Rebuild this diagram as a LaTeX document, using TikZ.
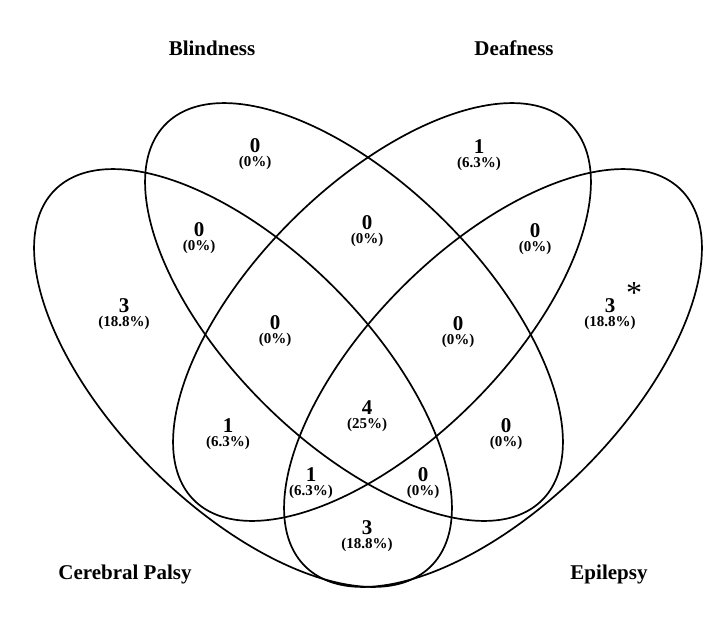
\documentclass[tikz,border=0pt]{standalone}
\usepackage{fontspec}
\setmainfont{Liberation Serif}

\begin{document}
\begin{tikzpicture}[
    x=0.5pt, y=0.5pt,
    ring/.style={draw, line width=0.85pt},
    cat/.style={anchor=base, font=\fontsize{10.5}{12}\selectfont\bfseries},
    num/.style={inner sep=0pt, font=\fontsize{10.5}{12}\selectfont\bfseries},
    pct/.style={inner sep=0pt, font=\fontsize{7.5}{9}\selectfont\bfseries}
]
\useasboundingbox (0,0) rectangle (719,-622);

% ellipse centres
\coordinate (cpc) at (243,-378);
\coordinate (blc) at (354,-312);
\coordinate (dfc) at (382,-312);
\coordinate (epc) at (493,-378);

\draw[ring, rotate around={-45:(cpc)}] (cpc) ellipse [x radius=266, y radius=128.5];
\draw[ring, rotate around={-45:(blc)}] (blc) ellipse [x radius=266, y radius=128.5];
\draw[ring, rotate around={45:(dfc)}] (dfc) ellipse [x radius=266, y radius=128.5];
\draw[ring, rotate around={45:(epc)}] (epc) ellipse [x radius=266, y radius=128.5];

% category labels
\node[cat] (blind) at (212,-55) {Blindness};
\node[cat] (deaf) at (514,-55) {Deafness};
\node[cat] (palsy) at (125,-579) {Cerebral Palsy};
\node[cat] (epil) at (609,-579) {Epilepsy};

% counts and percentages
\foreach \nm/\x/\y/\n/\p in {
    b/255/146/0/(0\%), d/479/147/1/(6.3\%),
    cb/199/230/0/(0\%), bd/367/223/0/(0\%), de/535/231/0/(0\%),
    c/124/306/3/(18.8\%), e/610/306/3/(18.8\%),
    cbd/275/323/0/(0\%), bde/458/324/0/(0\%),
    cd/228/426/1/(6.3\%), all/367/408/4/(25\%), be/506/426/0/(0\%),
    cde/311/475/1/(6.3\%), cbe/423/475/0/(0\%),
    ce/367/528/3/(18.8\%)}{
  \node[num] (\nm) at (\x,-\y) {\n};
  \node[pct] (\nm-p) at (\x,-\y-17) {\p};
}

\node[anchor=base, font=\fontsize{16}{16}\selectfont] (star) at (634,-303) {*};
\end{tikzpicture}
\end{document}
